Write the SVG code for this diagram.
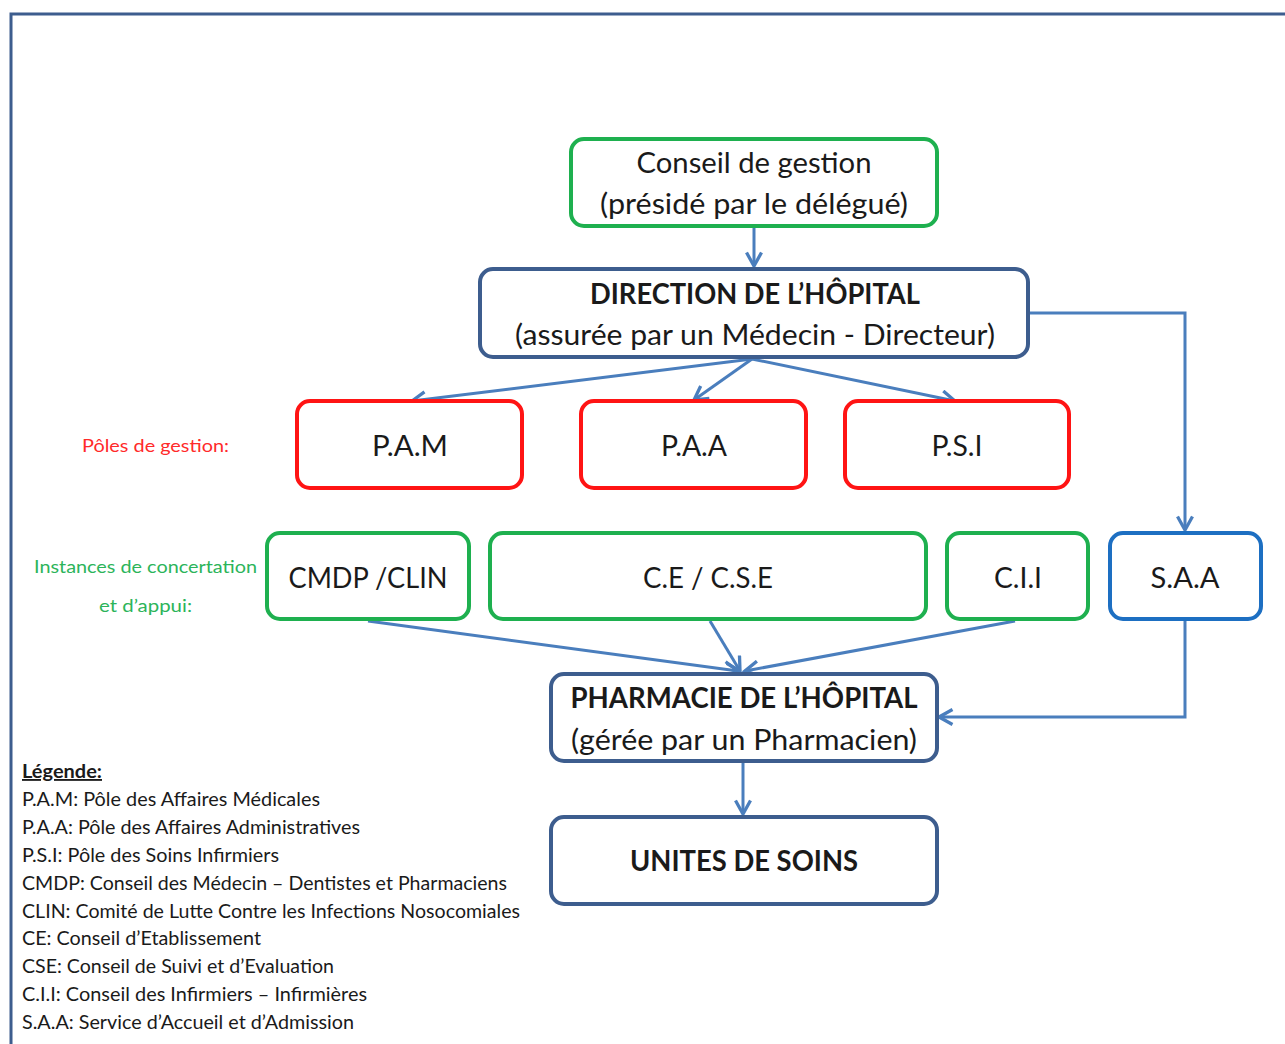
<svg xmlns="http://www.w3.org/2000/svg" width="1285" height="1044" viewBox="0 0 1285 1044">
  <style>
    .box { fill: #ffffff; stroke-width: 4; }
    .green { stroke: #1eb04f; }
    .red { stroke: #ff1414; }
    .navy { stroke: #3d5d8e; }
    .blue { stroke: #1d6fc2; }
    .lbl { font-family: "Lato", "Liberation Sans", sans-serif; fill: #1a1a1a; text-anchor: middle; }
    .big { font-size: 29px; }
    .bold { font-weight: bold; }
    .side { font-family: "Lato", "Liberation Sans", sans-serif; font-size: 18px; }
    .leg { font-family: "Lato", "Liberation Sans", sans-serif; font-size: 18.5px; fill: #1a1a1a; }
    .conn { fill: none; stroke: #4a7ebd; stroke-width: 3; marker-end: url(#arr); }
  </style>
  <defs>
    <marker id="arr" viewBox="0 0 12 12" refX="10" refY="6" markerWidth="6" markerHeight="6" orient="auto" markerUnits="strokeWidth">
      <path d="M1,1 L10,6 L1,11" fill="none" stroke="#4a7ebd" stroke-width="2.2"/>
    </marker>
  </defs>

  <rect width="1285" height="1044" fill="#ffffff"/>
  <!-- outer frame -->
  <path d="M11,1044 L11,14 L1285,14" fill="none" stroke="#3d5d8e" stroke-width="3"/>

  <!-- connectors -->
  <g id="connectors">
    <path class="conn" d="M754,227 L754,266"/>
    <path class="conn" d="M752,359 L412,401"/>
    <path class="conn" d="M752,359 L694,400"/>
    <path class="conn" d="M752,359 L955,401"/>
    <path class="conn" d="M1029,313 L1185,313 L1185,530"/>
    <path class="conn" d="M1185,621 L1185,717 L939,717"/>
    <path class="conn" d="M368,621 L738,671"/>
    <path class="conn" d="M710,621 L740,671"/>
    <path class="conn" d="M1015,621 L745,671"/>
    <path class="conn" d="M743,763 L743,814"/>
  </g>

  <g id="conseil">
    <rect class="box green" x="571" y="139" width="366" height="87" rx="13"/>
    <text class="lbl big" x="754" y="173" textLength="235" lengthAdjust="spacingAndGlyphs">Conseil de gestion</text>
    <text class="lbl big" x="754" y="214" textLength="308" lengthAdjust="spacingAndGlyphs">(présidé par le délégué)</text>
  </g>

  <g id="direction">
    <rect class="box navy" x="480" y="269" width="548" height="88" rx="13"/>
    <text class="lbl big bold" x="755" y="304" textLength="330" lengthAdjust="spacingAndGlyphs">DIRECTION DE L’HÔPITAL</text>
    <text class="lbl big" x="755" y="345" textLength="480" lengthAdjust="spacingAndGlyphs">(assurée par un Médecin - Directeur)</text>
  </g>

  <text class="side" x="82" y="452" fill="#ff2a2a" textLength="147" lengthAdjust="spacingAndGlyphs">Pôles de gestion:</text>

  <g id="pam">
    <rect class="box red" x="297" y="401" width="225" height="87" rx="13"/>
    <text class="lbl big" x="410" y="456" textLength="76" lengthAdjust="spacingAndGlyphs">P.A.M</text>
  </g>
  <g id="paa">
    <rect class="box red" x="581" y="401" width="225" height="87" rx="13"/>
    <text class="lbl big" x="694" y="456" textLength="66" lengthAdjust="spacingAndGlyphs">P.A.A</text>
  </g>
  <g id="psi">
    <rect class="box red" x="845" y="401" width="224" height="87" rx="13"/>
    <text class="lbl big" x="957" y="456" textLength="51" lengthAdjust="spacingAndGlyphs">P.S.I</text>
  </g>

  <text class="side" x="34" y="573" fill="#2cb45a" textLength="223" lengthAdjust="spacingAndGlyphs">Instances de concertation</text>
  <text class="side" x="99" y="612" fill="#2cb45a" textLength="93" lengthAdjust="spacingAndGlyphs">et d’appui:</text>

  <g id="cmdp">
    <rect class="box green" x="267" y="533" width="202" height="86" rx="13"/>
    <text class="lbl big" x="368" y="588" textLength="159" lengthAdjust="spacingAndGlyphs">CMDP /CLIN</text>
  </g>
  <g id="ce">
    <rect class="box green" x="490" y="533" width="436" height="86" rx="13"/>
    <text class="lbl big" x="708" y="588" textLength="130" lengthAdjust="spacingAndGlyphs">C.E / C.S.E</text>
  </g>
  <g id="cii">
    <rect class="box green" x="947" y="533" width="141" height="86" rx="13"/>
    <text class="lbl big" x="1018" y="588" textLength="48" lengthAdjust="spacingAndGlyphs">C.I.I</text>
  </g>
  <g id="saa">
    <rect class="box blue" x="1110" y="533" width="151" height="86" rx="13"/>
    <text class="lbl big" x="1185" y="588" textLength="69" lengthAdjust="spacingAndGlyphs">S.A.A</text>
  </g>

  <g id="pharmacie">
    <rect class="box navy" x="551" y="674" width="386" height="87" rx="13"/>
    <text class="lbl big bold" x="744" y="708" textLength="347" lengthAdjust="spacingAndGlyphs">PHARMACIE DE L’HÔPITAL</text>
    <text class="lbl big" x="744" y="750" textLength="346" lengthAdjust="spacingAndGlyphs">(gérée par un Pharmacien)</text>
  </g>

  <g id="unites">
    <rect class="box navy" x="551" y="817" width="386" height="87" rx="13"/>
    <text class="lbl big bold" x="744" y="871" textLength="228" lengthAdjust="spacingAndGlyphs">UNITES DE SOINS</text>
  </g>

  <!-- legend -->
  <g id="legend">
    <text class="leg" x="22" y="778" font-weight="bold" text-decoration="underline" textLength="80" lengthAdjust="spacingAndGlyphs">Légende:</text>
    <text class="leg" x="22" y="806" textLength="298" lengthAdjust="spacingAndGlyphs">P.A.M: Pôle des Affaires Médicales</text>
    <text class="leg" x="22" y="834" textLength="338" lengthAdjust="spacingAndGlyphs">P.A.A: Pôle des Affaires Administratives</text>
    <text class="leg" x="22" y="862" textLength="257" lengthAdjust="spacingAndGlyphs">P.S.I: Pôle des Soins Infirmiers</text>
    <text class="leg" x="22" y="890" textLength="485" lengthAdjust="spacingAndGlyphs">CMDP: Conseil des Médecin – Dentistes et Pharmaciens</text>
    <text class="leg" x="22" y="918" textLength="498" lengthAdjust="spacingAndGlyphs">CLIN: Comité de Lutte Contre les Infections Nosocomiales</text>
    <text class="leg" x="22" y="945" textLength="239" lengthAdjust="spacingAndGlyphs">CE: Conseil d’Etablissement</text>
    <text class="leg" x="22" y="973" textLength="312" lengthAdjust="spacingAndGlyphs">CSE: Conseil de Suivi et d’Evaluation</text>
    <text class="leg" x="22" y="1001" textLength="345" lengthAdjust="spacingAndGlyphs">C.I.I: Conseil des Infirmiers – Infirmières</text>
    <text class="leg" x="22" y="1029" textLength="332" lengthAdjust="spacingAndGlyphs">S.A.A: Service d’Accueil et d’Admission</text>
  </g>
</svg>
